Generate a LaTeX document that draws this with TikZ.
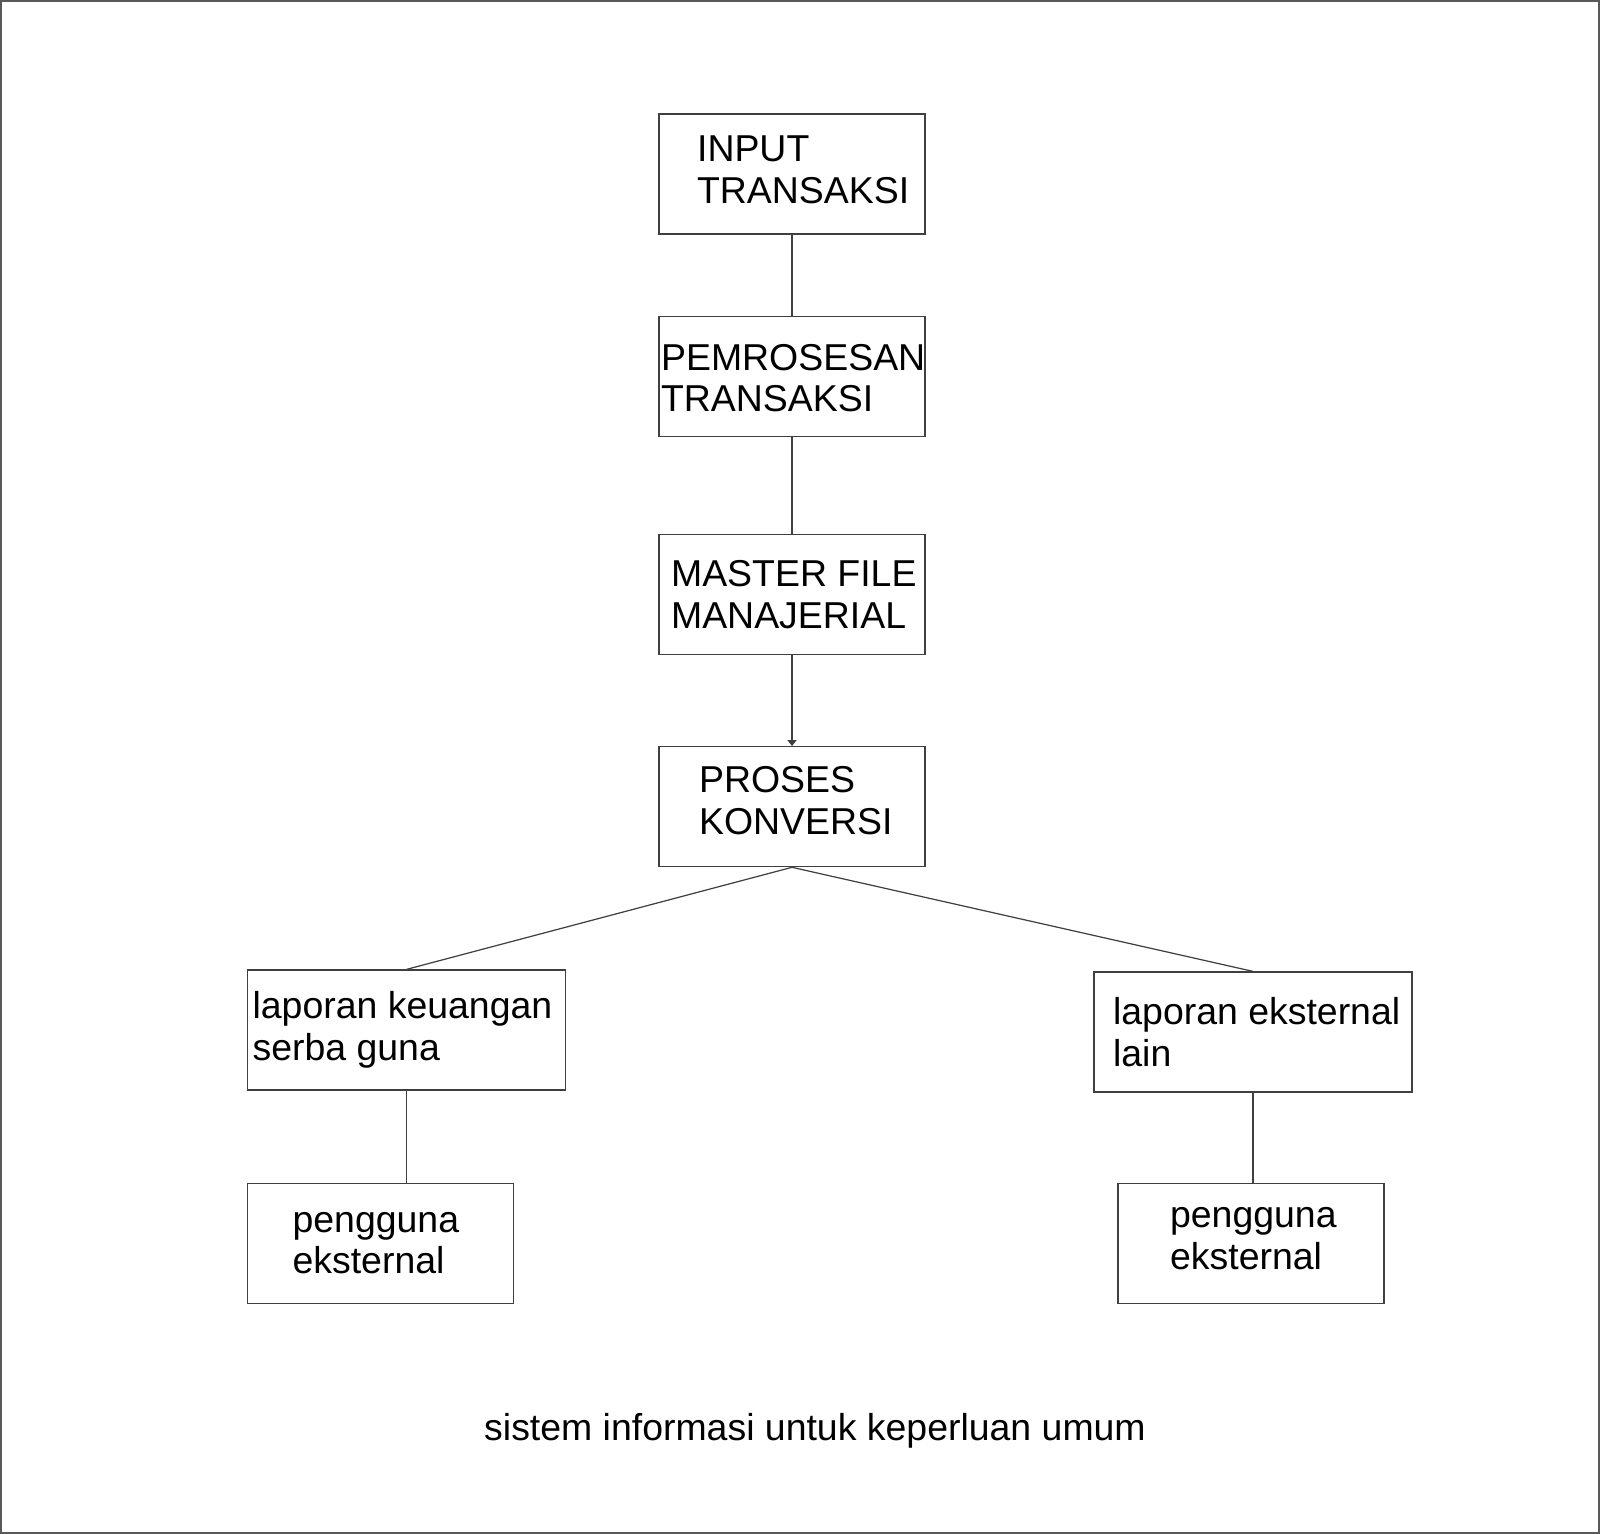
\documentclass[tikz,border=0pt]{standalone}
\usepackage{fontspec}
\setmainfont{Liberation Sans}
\usetikzlibrary{positioning,arrows.meta}
\tikzset{
    blok/.style={draw=black!75, line width=0.35pt, minimum width=2.66cm,
        minimum height=1.2cm, inner sep=0pt},
    teks/.style={anchor=west, align=left, inner sep=0pt,
        font=\fontsize{10.65pt}{11.8pt}\selectfont},
    garis/.style={draw=black!75, line width=0.35pt}
}

\begin{document}
\begin{tikzpicture}
\tikzstyle{lebar}=[minimum width=3.18cm]

\useasboundingbox (0,0) rectangle (16,-15.34);
\draw[black!65, line width=0.6pt] (0.01,-0.01) rectangle (15.99,-15.33);

\node[blok] (input) at (7.92,-1.74) {};
\node[blok, below=0.81cm of input] (pemrosesan) {};
\node[blok, below=0.97cm of pemrosesan] (master) {};
\node[blok, below=0.91cm of master] (proses) {};
\node[blok, lebar] (lapkeu) at (4.065,-10.30) {};
\node[blok, lebar] (lapeks) at (12.53,-10.32) {};
\node[blok, below=0.92cm of lapkeu.south west, anchor=north west] (peng1) {};
\node[blok, below=0.90cm of lapeks.south west, anchor=north west, xshift=0.24cm] (peng2) {};

\node[teks, xshift=0.38cm, yshift=0.04cm] (tinput) at (input.west) {INPUT\\TRANSAKSI};
\node[teks, xshift=0.02cm, yshift=-0.02cm] (tpemrosesan) at (pemrosesan.west) {PEMROSESAN\\TRANSAKSI};
\node[teks, xshift=0.12cm] (tmaster) at (master.west) {MASTER FILE\\MANAJERIAL};
\node[teks, xshift=0.40cm, yshift=0.06cm] (tproses) at (proses.west) {PROSES\\KONVERSI};
\node[teks, xshift=0.05cm] (tlapkeu) at (lapkeu.west) {laporan keuangan\\serba guna};
\node[teks, xshift=0.19cm] (tlapeks) at (lapeks.west) {laporan eksternal\\lain};
\node[teks, xshift=0.45cm] (tpeng1) at (peng1.west) {pengguna\\eksternal};
\node[teks, xshift=0.52cm, yshift=0.045cm] (tpeng2) at (peng2.west) {pengguna\\eksternal};

\node[teks, anchor=base] (judul) at (8.15,-14.40) {sistem informasi untuk keperluan umum};

\draw[garis] (input.south) -- (pemrosesan.north);
\draw[garis] (pemrosesan.south) -- (master.north);
\draw[garis, -{Triangle[length=0.6mm,width=0.9mm]}] (master.south) -- (proses.north);
\draw[garis] (proses.south) -- (lapkeu.north);
\draw[garis] (proses.south) -- (lapeks.north);
\draw[garis] (lapkeu.south) -- (lapkeu.south |- peng1.north);
\draw[garis] (lapeks.south) -- (lapeks.south |- peng2.north);
\end{tikzpicture}
\end{document}
